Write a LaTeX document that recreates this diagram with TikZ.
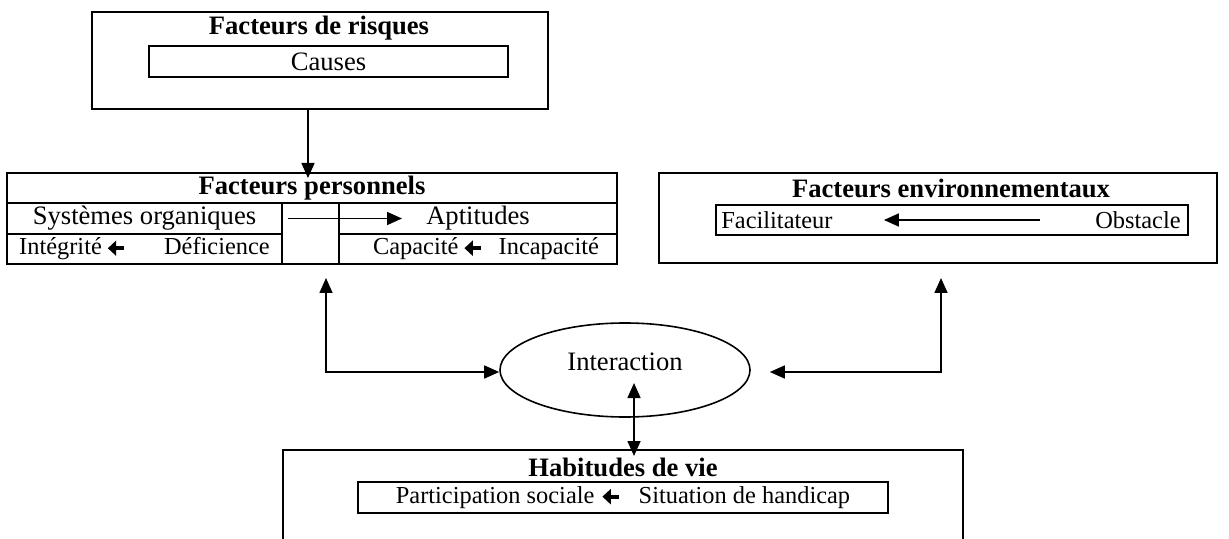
\documentclass[tikz,border=0pt]{standalone}
\usepackage{fontspec}
\setmainfont{Liberation Serif}
\usetikzlibrary{arrows.meta,shapes.geometric,calc}
\newcommand{\grand}{\fontsize{13.3}{15}\selectfont}
\newcommand{\petit}{\fontsize{12.2}{14}\selectfont}
\newcommand{\flg}{\tikz[baseline=-0.6ex]\draw[line width=1.9pt,-{Triangle[length=4.2pt,width=7.5pt]}] (8.5pt,0pt) -- (0.3pt,0pt);}
\begin{document}
\begin{tikzpicture}[x=0.5pt,y=-0.5pt,
                boite/.style={draw, line width=1pt, inner sep=0pt},
                titre/.style={font=\grand\bfseries},
                fleche/.style={line width=0.8pt, -{Triangle[length=7.5pt,width=6.5pt]}},
                flechedouble/.style={line width=0.8pt, {Triangle[length=7.5pt,width=6.5pt]}-{Triangle[length=7.5pt,width=6.5pt]}},
            ]
            \useasboundingbox (0,0) rectangle (1229,539);
            % facteurs de risques
            \node[boite, minimum width=228pt, minimum height=48.5pt] (risques) at (320,60.5) {};
            \node[titre, anchor=base] (titrerisques) at (319,35) {Facteurs de risques};
            \node[boite, minimum width=179.5pt, minimum height=15.5pt, font=\grand] (causes) at (328.5,61.5) {Causes};
            % facteurs personnels
            \node[boite, titre, minimum width=305pt, minimum height=15pt] (perso) at (312,188) {Facteurs personnels};
            \node[boite, font=\grand, minimum width=137.5pt, minimum height=15.5pt] (systemes) at (144.5,218.5) {Systèmes organiques};
            \node[boite, font=\petit, minimum width=137.5pt, minimum height=15pt] (integrite) at (144.5,249) {Intégrité\,\flg\hspace{19pt}Déficience};
            \node[boite, minimum width=28.5pt, minimum height=30.5pt] (milieu) at (310.5,233.5) {};
            \node[boite, font=\grand, minimum width=139pt, minimum height=15.5pt] (aptitudes) at (478,218.5) {Aptitudes};
            \node[boite, font=\petit, minimum width=139pt, minimum height=15pt] (capacite) at (478,249) {\hspace{8pt}Capacité\,\flg\hspace{8pt}Incapacité};
            \coordinate (pointeP) at (308,178);
            \draw[fleche] (risques.south -| pointeP) -- (pointeP);
            \draw[fleche] ([xshift=2.5pt]systemes.east) -- ([xshift=32pt]aptitudes.west);
            % facteurs environnementaux
            \node[boite, minimum width=279pt, minimum height=45pt] (environ) at (938,218) {};
            \node[titre] (titreenv) at (951,188) {Facteurs environnementaux};
            \node[boite, minimum width=236pt, minimum height=15pt] (obstacles) at (952,220) {};
            \node[font=\petit, anchor=west, inner sep=0pt] (facilitateur) at (721,220) {Facilitateur};
            \node[font=\petit, anchor=east, inner sep=0pt] (obstacle) at (1181,220) {Obstacle};
            \draw[fleche] ([xshift=-27.5pt]obstacle.west) -- ([xshift=25.5pt]facilitateur.east);
            % interaction
            \node[draw, ellipse, line width=0.8pt, minimum width=125pt, minimum height=47pt,
                  label={[font=\grand, yshift=4pt]center:Interaction}] (interaction) at (625,370) {};
            \coordinate (coinG) at (326,372);
            \coordinate (coinD) at (941,372);
            % habitudes de vie
            \node[boite, minimum width=340pt, minimum height=55pt] (habitudes) at (623,505) {};
            \node[titre] (titrehab) at (623,467) {Habitudes de vie};
            \node[boite, font=\petit, minimum width=265pt, minimum height=15.5pt] (participation) at (623,497.5) {Participation sociale \flg\hspace{9pt}Situation de handicap};
            % liens
            \draw[flechedouble] ($(capacite.south -| coinG)+(0,13)$) -- (coinG) -- (coinG -| interaction.west);
            \draw[flechedouble] ($(environ.south -| coinD)+(0,14)$) -- (coinD) -- ($(coinD -| interaction.east)+(19,0)$);
            \draw[flechedouble] ($(interaction.center)+(9,13)$) -- ($(habitudes.north)+(11,7)$);
        \end{tikzpicture}
\end{document}
